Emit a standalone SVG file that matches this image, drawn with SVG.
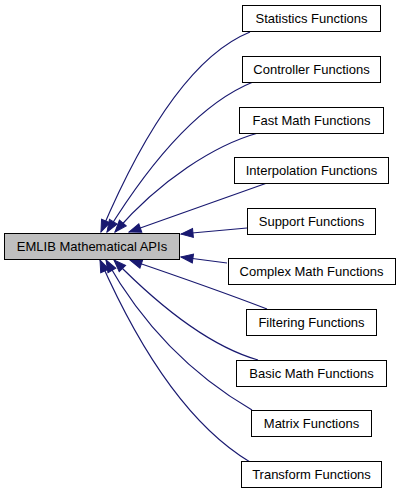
<svg xmlns="http://www.w3.org/2000/svg" width="400" height="493" viewBox="0 0 400 493">
<defs>
<marker id="ah" markerUnits="userSpaceOnUse" viewBox="-14 -6 15 12" refX="0" refY="0" markerWidth="15" markerHeight="12" orient="auto">
<path d="M0,0 L-12,-4.5 L-12,4.5 Z" fill="#191970" stroke="#191970" stroke-width="1"/>
</marker>
<style>
.e{fill:none;stroke:#191970;stroke-width:1.2;marker-end:url(#ah)}
.n rect{fill:#ffffff;stroke:#000000;stroke-width:1}
.n text{font-family:"Liberation Sans",Arial,sans-serif;font-size:13px;fill:#000000;text-anchor:middle}
#main rect{fill:#bfbfbf}
</style>
</defs>
<rect width="400" height="493" fill="#ffffff"/>
<g id="edges">
<path class="e" d="M250,32 C198,53 148.5,120 101,232"/>
<path class="e" d="M253,82 C206,101 157,151 107,232"/>
<path class="e" d="M258,133 C215,145 160,180 115,232"/>
<path class="e" d="M267,183 L129,232"/>
<path class="e" d="M247,228 L181,234"/>
<path class="e" d="M227,263 L181,257"/>
<path class="e" d="M267,309 Q215,289 130,260"/>
<path class="e" d="M258,360 C216,348 168,315 114,260"/>
<path class="e" d="M252,410 C190,374 142,324 106,260"/>
<path class="e" d="M250,462 C195,429 145,362 100,260"/>
</g>
<g id="main" class="n"><rect x="4.5" y="233.5" width="175" height="26"/><text x="92" y="251">EMLIB Mathematical APIs</text></g>
<g id="statistics" class="n"><rect x="242.5" y="5.5" width="138" height="26"/><text x="311.5" y="23">Statistics Functions</text></g>
<g id="controller" class="n"><rect x="242.5" y="56.5" width="138" height="26"/><text x="311.5" y="74">Controller Functions</text></g>
<g id="fastmath" class="n"><rect x="239.5" y="107.5" width="144" height="26"/><text x="311.5" y="125">Fast Math Functions</text></g>
<g id="interpolation" class="n"><rect x="234.5" y="157.5" width="154" height="26"/><text x="311.5" y="175">Interpolation Functions</text></g>
<g id="support" class="n"><rect x="247.5" y="208.5" width="128" height="26"/><text x="311.5" y="226">Support Functions</text></g>
<g id="complexmath" class="n"><rect x="228.5" y="258.5" width="167" height="26"/><text x="311.5" y="276">Complex Math Functions</text></g>
<g id="filtering" class="n"><rect x="246.5" y="309.5" width="130" height="26"/><text x="311.5" y="327">Filtering Functions</text></g>
<g id="basicmath" class="n"><rect x="236.5" y="360.5" width="150" height="26"/><text x="311.5" y="378">Basic Math Functions</text></g>
<g id="matrix" class="n"><rect x="251.5" y="410.5" width="120" height="26"/><text x="311.5" y="428">Matrix Functions</text></g>
<g id="transform" class="n"><rect x="241.5" y="461.5" width="140" height="26"/><text x="311.5" y="479">Transform Functions</text></g>
</svg>
